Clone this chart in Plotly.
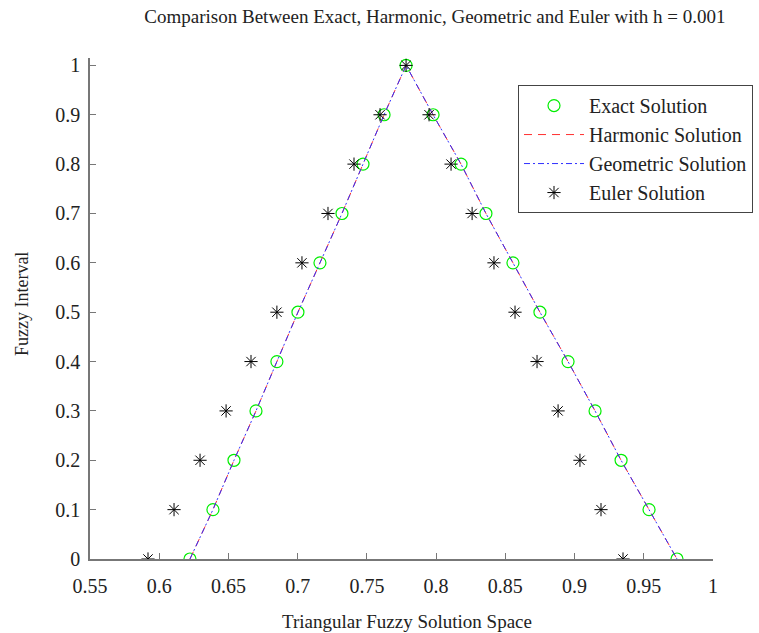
import plotly.graph_objects as go

y_levels = [0, 0.1, 0.2, 0.3, 0.4, 0.5, 0.6, 0.7, 0.8, 0.9, 1.0]

exact_left = [0.6222, 0.6388, 0.6540, 0.6699, 0.6850, 0.7002, 0.7161, 0.7320, 0.7472, 0.7624, 0.7783]
exact_right = [0.9740, 0.9538, 0.9336, 0.9148, 0.8953, 0.8750, 0.8555, 0.8360, 0.8180, 0.7978, 0.7783]

harmonic_left = exact_left
harmonic_right = exact_right
geometric_left = exact_left
geometric_right = exact_right

euler_left = [0.5919, 0.6107, 0.6295, 0.6483, 0.6663, 0.6850, 0.7031, 0.7219, 0.7407, 0.7595, 0.7783]
euler_right = [0.9350, 0.9191, 0.9039, 0.8881, 0.8729, 0.8570, 0.8418, 0.8260, 0.8108, 0.7949, 0.7783]

x_ticks = [0.55, 0.6, 0.65, 0.7, 0.75, 0.8, 0.85, 0.9, 0.95, 1]
x_tick_text = ["0.55", "0.6", "0.65", "0.7", "0.75", "0.8", "0.85", "0.9", "0.95", "1"]
y_ticks = y_levels
y_tick_text = ["0", "0.1", "0.2", "0.3", "0.4", "0.5", "0.6", "0.7", "0.8", "0.9", "1"]

def tri(left, right):
    xs = list(left) + list(reversed(right))[1:]
    ys = list(y_levels) + list(reversed(y_levels))[1:]
    return xs, ys

fig = go.Figure()
ex, ey = tri(exact_left, exact_right)
hx, hy = tri(harmonic_left, harmonic_right)
gx, gy = tri(geometric_left, geometric_right)
eux, euy = tri(euler_left, euler_right)

fig.add_trace(go.Scatter(x=ex, y=ey, mode="markers", name="Exact Solution",
                         marker=dict(symbol="circle-open", size=12, color="#00ee00",
                                     line=dict(width=1.2, color="#00ee00"))))
fig.add_trace(go.Scatter(x=hx, y=hy, mode="lines", name="Harmonic Solution",
                         line=dict(color="#ff3030", width=1, dash="8px,6px")))
fig.add_trace(go.Scatter(x=gx, y=gy, mode="lines", name="Geometric Solution",
                         line=dict(color="#3030ff", width=1, dash="6px,3px,2px,3px")))
fig.add_trace(go.Scatter(x=eux, y=euy, mode="markers", name="Euler Solution",
                         marker=dict(symbol="asterisk-open", size=11, color="black",
                                     line=dict(width=1, color="#222"))))

font_family = "Liberation Serif, Times New Roman, serif"
fig.update_layout(
    width=759, height=633,
    margin=dict(l=90, r=46, t=58, b=74, autoexpand=False),
    plot_bgcolor="white", paper_bgcolor="white",
    font=dict(family=font_family, size=20, color="#222"),
    title=dict(text="Comparison Between Exact, Harmonic, Geometric and Euler with h = 0.001",
               x=0.573, xanchor="center", y=0.985, yanchor="top",
               font=dict(family=font_family, size=19, color="#222")),
    showlegend=True,
    legend=dict(x=0.687, y=0.946, xanchor="left", yanchor="top",
                bordercolor="#444", borderwidth=1, bgcolor="white",
                font=dict(family=font_family, size=20, color="#222"),
                tracegroupgap=0, itemwidth=60),
    xaxis=dict(range=[0.55, 1.0], tickvals=x_ticks, ticktext=x_tick_text,
               showgrid=False, zeroline=False, showline=True, linecolor="#777",
               linewidth=1.5, ticks="inside", ticklen=6, tickcolor="#777",
               automargin=False, tickfont=dict(size=20), ticklabelstandoff=8),
    yaxis=dict(range=[0, 1.015], tickvals=y_ticks, ticktext=y_tick_text,
               showgrid=False, zeroline=False, showline=True, linecolor="#777",
               linewidth=1.5, ticks="inside", ticklen=6, tickcolor="#777",
               automargin=False, tickfont=dict(size=20), ticklabelstandoff=4),
    annotations=[
        dict(text="Triangular Fuzzy Solution Space", xref="paper", yref="paper",
             x=0.509, y=-0.124, xanchor="center", yanchor="middle", showarrow=False,
             font=dict(family=font_family, size=19, color="#222")),
        dict(text="Fuzzy Interval", xref="paper", yref="paper",
             x=-0.109, y=0.509, xanchor="center", yanchor="middle", showarrow=False,
             textangle=-90, font=dict(family=font_family, size=18, color="#222")),
    ],
)
fig.write_html("out.html", config={"displayModeBar": False},
               post_script="document.body.style.margin='0px';")
